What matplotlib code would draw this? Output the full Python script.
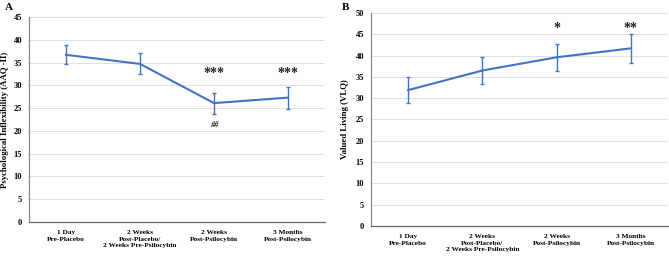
import numpy as np
import matplotlib.pyplot as plt

plt.rcParams['font.family'] = ['Liberation Serif', 'DejaVu Serif']
plt.rcParams['font.weight'] = 'bold'

categories = ['1 Day\nPre-Placebo', '2 Weeks\nPost-Placebo/\n2 Weeks Pre-Psilocybin',
              '2 Weeks\nPost-Psilocybin', '3 Months\nPost-Psilocybin']

aaq_mean = [36.7, 34.7, 26.1, 27.3]
aaq_err = [2.1, 2.3, 2.3, 2.4]
aaq_marks = ['', '', '***', '***']

vlq_mean = [31.9, 36.5, 39.6, 41.7]
vlq_err = [3.0, 3.1, 3.2, 3.4]
vlq_marks = ['', '', '*', '**']

blue = '#4472C4'

fig = plt.figure(figsize=(6.69, 2.57), dpi=100)
axA = fig.add_axes([29/669, 1 - 222/257, 296/669, 205/257])
axB = fig.add_axes([371/669, 1 - 226/257, 297/669, 213/257])

def draw(ax, mean, err, ymax, ylabel, ylab_x, marks, mark_y):
    x = np.arange(len(mean))
    ax.plot(x, mean, color=blue, lw=1.5, zorder=3)
    ax.errorbar(x, mean, yerr=err, fmt='none', ecolor=blue, elinewidth=1.0,
                capsize=1.5, capthick=1.0, zorder=3)
    ax.set_xlim(-0.5, len(mean) - 0.5)
    ax.set_ylim(0, ymax)
    ax.set_yticks(np.arange(0, ymax + 1, 5))
    ax.set_xticks(x)
    ax.set_xticklabels(categories, fontsize=5.3, fontweight='bold', linespacing=1.35)
    ax.tick_params(axis='y', labelsize=6, length=0, pad=5)
    ax.tick_params(axis='x', length=0, pad=6)
    ax.grid(axis='y', color='#e0e0e0', lw=0.7)
    ax.set_axisbelow(True)
    for s in ['top', 'right']:
        ax.spines[s].set_visible(False)
    ax.spines['left'].set_color('#888888')
    ax.spines['bottom'].set_color('#666666')
    ax.spines['left'].set_linewidth(0.9)
    ax.spines['bottom'].set_linewidth(0.9)
    ax.set_ylabel(ylabel, fontsize=6.3, fontweight='bold')
    ax.yaxis.set_label_coords(ylab_x, 0.5)
    for i, m in enumerate(marks):
        if m:
            ax.text(i, mark_y, m, ha='center', va='center', fontsize=10, fontweight='bold',
                    color='#222222')

draw(axA, aaq_mean, aaq_err, 45, 'Psychological Inflexibility (AAQ -II)', -0.066, aaq_marks, 32.6)
axA.text(2, 21.3, '##', ha='center', va='center', fontsize=6, fontstyle='italic',
         color='#222222')
draw(axB, vlq_mean, vlq_err, 50, 'Valued Living (VLQ)', -0.074, vlq_marks, 46.4)

fig.text(5/669, 1 - 7/257, 'A', fontsize=8, fontweight='bold', va='center')
fig.text(342/669, 1 - 7/257, 'B', fontsize=8, fontweight='bold', va='center')

fig.savefig('out.png', dpi=100)
